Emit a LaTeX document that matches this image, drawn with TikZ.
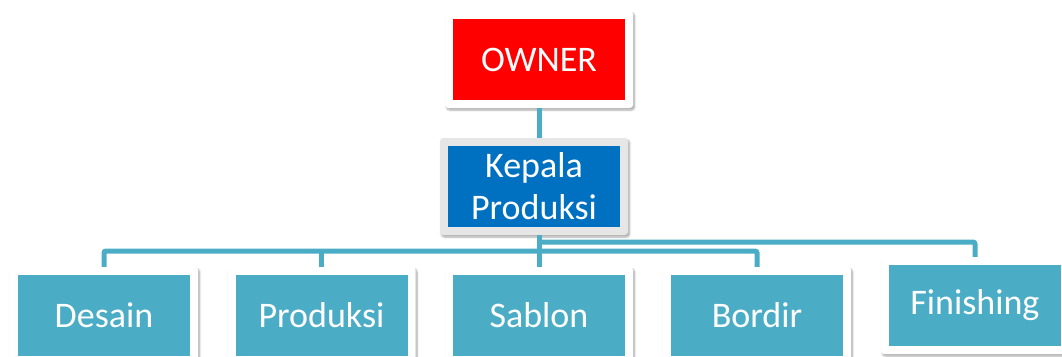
\documentclass[tikz,border=0pt]{standalone}
\usepackage{fontspec}
\setmainfont{Carlito}
\usetikzlibrary{shadows.blur}

\definecolor{ownerred}{HTML}{FF0000}
\definecolor{headblue}{HTML}{0070C0}
\definecolor{unitteal}{HTML}{4BACC6}
\definecolor{framegray}{HTML}{E6E6E6}

\tikzset{
  chart/.style={rectangle, rounded corners=3pt, minimum width=188pt, minimum height=97pt,
    inner sep=0pt, text=white, align=center, font=\fontsize{36}{42}\selectfont, fill=white,
    blur shadow={shadow xshift=1.5pt, shadow yshift=-2pt, shadow blur steps=6, shadow opacity=35},
    path picture={\fill[#1, sharp corners] ([shift={(8pt,8pt)}]path picture bounding box.south west)
      rectangle ([shift={(-8pt,-8pt)}]path picture bounding box.north east);}},
  link/.style={draw=unitteal, line width=5pt, rounded corners=2pt},
}

\begin{document}
\begin{tikzpicture}[x=1pt, y=-1pt]
  \useasboundingbox (0,0) rectangle (1062,356);

  \node (owner) at (539, 59.5) [chart=ownerred] {OWNER};
  \node (kepala) at (534, 186.5) [chart=headblue, fill=framegray] {Kepala\\Produksi};

  \node (desain) at (104, 315.5) [chart=unitteal] {Desain};
  \node (produksi) at (321.5, 315.5) [chart=unitteal] {Produksi};
  \node (sablon) at (539, 315.5) [chart=unitteal] {Sablon};
  \node (bordir) at (757, 315.5) [chart=unitteal] {Bordir};
  \node (finishing) at (975, 305.5) [chart=unitteal] {Finishing};

  \coordinate (bus) at (539, 251);
  \coordinate (bus2) at (539, 242);

  \draw[link] (owner.south) -- (owner.south |- kepala.north);
  \draw[link] (owner.south |- kepala.south) -- (sablon.north);
  \draw[link] (desain.north) |- (bus) -| (bordir.north);
  \draw[link] (produksi.north) -- (produksi.north |- bus);
  \draw[link] (bus2) -| (finishing.north);
\end{tikzpicture}
\end{document}
